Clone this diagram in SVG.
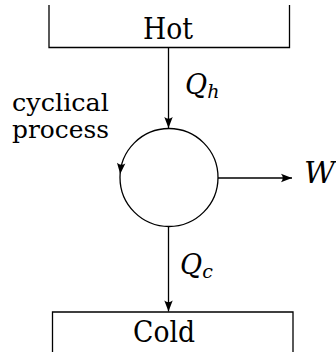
<svg xmlns="http://www.w3.org/2000/svg" xmlns:xlink="http://www.w3.org/1999/xlink" width="336" height="356" viewBox="0 0 336 356">
<style>
.ln{fill:none;stroke:#000;stroke-width:1.3}
text{font-family:'DejaVu Serif','Liberation Serif',serif;fill:#000}
.it{font-style:italic}
</style>
<defs>
<path id="tip" d="M0,0 L-11,-4.2 Q-7.5,0 -11,4.2 Z" fill="#000"/>
<marker id="arr" markerUnits="userSpaceOnUse" markerWidth="14" markerHeight="10" viewBox="-12 -5 14 10" refX="0" refY="0" orient="auto">
<use xlink:href="#tip"/>
</marker>
</defs>
<rect width="336" height="356" fill="#fff"/>
<g id="hot">
<path class="ln" d="M49,5 V47.5 H289.5 V5"/>
<text x="143" y="39" font-size="30" textLength="50" lengthAdjust="spacingAndGlyphs">Hot</text>
</g>
<g id="cold">
<path class="ln" d="M52.5,352 V312 H293 V352"/>
<text x="133" y="341.5" font-size="30" textLength="62" lengthAdjust="spacingAndGlyphs">Cold</text>
</g>
<g id="process">
<circle class="ln" cx="169" cy="177.5" r="49"/>
<use xlink:href="#tip" transform="translate(120.2,174) rotate(95)"/>
<text x="12" y="111" font-size="25" textLength="97" lengthAdjust="spacingAndGlyphs">cyclical</text>
<text x="12" y="138" font-size="25" textLength="97" lengthAdjust="spacingAndGlyphs">process</text>
</g>
<g id="connectors">
<line class="ln" x1="168.5" y1="47.5" x2="168.5" y2="128" marker-end="url(#arr)"/>
<line class="ln" x1="168.5" y1="227" x2="168.5" y2="311.5" marker-end="url(#arr)"/>
<line class="ln" x1="218" y1="178" x2="292" y2="178" marker-end="url(#arr)"/>
</g>
<g id="labels">
<text class="it" x="185" y="94" font-size="27">Q<tspan font-size="19" dy="4">h</tspan></text>
<text class="it" x="180" y="274" font-size="27">Q<tspan font-size="19" dy="4">c</tspan></text>
<text class="it" x="304" y="183" font-size="30" textLength="31" lengthAdjust="spacingAndGlyphs">W</text>
</g>
</svg>
